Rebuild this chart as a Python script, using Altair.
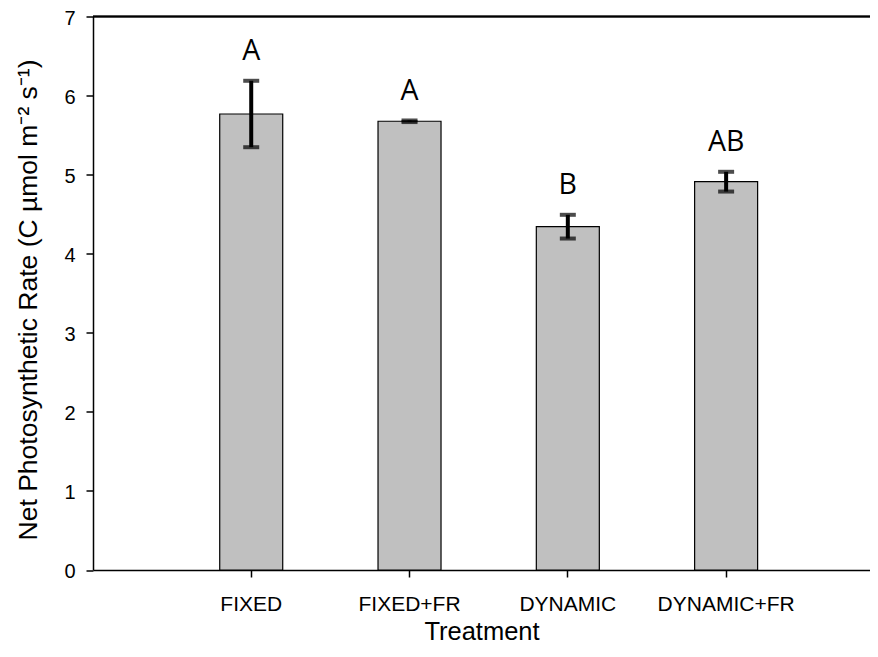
import altair as alt
import pandas as pd

treatments = ["FIXED", "FIXED+FR", "DYNAMIC", "DYNAMIC+FR"]
means = [5.767, 5.675, 4.342, 4.911]
errors = [0.42, 0.01, 0.15, 0.125]
letters = ["A", "A", "B", "AB"]

df = pd.DataFrame({"treatment": treatments, "mean": means, "se": errors, "letter": letters})

FONT = "Liberation Sans"

x_enc = alt.X(
    "treatment:N",
    sort=treatments,
    scale=alt.Scale(paddingInner=0.602, paddingOuter=0.7552, align=0.530),
    axis=alt.Axis(
        title="Treatment", labelAngle=0, labelFont=FONT, titleFont=FONT,
        labelFontSize=21, titleFontSize=25.5, titleFontWeight="normal",
        labelColor="black", titleColor="black", domainColor="black",
        tickColor="black", domainWidth=1.5, tickWidth=1.5, tickSize=7,
        labelPadding=16, titlePadding=5, grid=False,
    ),
)
y_scale = alt.Scale(domain=[0, 7], nice=False, zero=True)
y_axis = alt.Axis(
    title="Net Photosynthetic Rate (C µmol m⁻² s⁻¹)",
    values=[0, 1, 2, 3, 4, 5, 6, 7], format="d",
    labelFont=FONT, titleFont=FONT, labelFontSize=20, titleFontSize=26.5,
    titleFontWeight="normal", labelColor="black", titleColor="black",
    domainColor="black", tickColor="black", domainWidth=1.5, tickWidth=1.5,
    tickSize=7, labelPadding=11, labelOffset=1.5, titlePadding=21,
    titleY=283, titleAlign="center", grid=False,
)

base = alt.Chart(df).transform_calculate(
    upper="datum.mean + datum.se", lower="datum.mean - datum.se"
)

bars = base.mark_bar(color="#c0c0c0", stroke="black", strokeWidth=1.2).encode(
    x=x_enc,
    y=alt.Y("mean:Q", scale=y_scale, axis=y_axis),
)

rule = base.mark_rule(color="black", strokeWidth=4).encode(
    x=alt.X("treatment:N", sort=treatments),
    y="lower:Q",
    y2="upper:Q",
)

cap_up = base.mark_tick(color="black", size=16, thickness=4, orient="horizontal").encode(
    x=alt.X("treatment:N", sort=treatments),
    y="upper:Q",
)
cap_lo = base.mark_tick(color="black", size=16, thickness=4, orient="horizontal").encode(
    x=alt.X("treatment:N", sort=treatments),
    y="lower:Q",
)

text = base.mark_text(
    font="Open Sans", fontSize=28.5, baseline="alphabetic", dy=-20.5, color="black"
).encode(
    x=alt.X("treatment:N", sort=treatments),
    y="upper:Q",
    text="letter:N",
)

top_line = alt.Chart(df).mark_rule(color="black", strokeWidth=1.5).encode(
    y=alt.datum(7, scale=y_scale)
)

chart = alt.layer(bars, rule, cap_up, cap_lo, text, top_line).properties(
    width=777,
    height=553.5,
    autosize=alt.AutoSizeParams(type="none"),
    padding={"left": 85, "top": 8.5, "right": 0, "bottom": 75},
).configure_view(stroke=None).configure(background="white")

chart.save("out.html", embed_options={"renderer": "svg", "actions": False})
